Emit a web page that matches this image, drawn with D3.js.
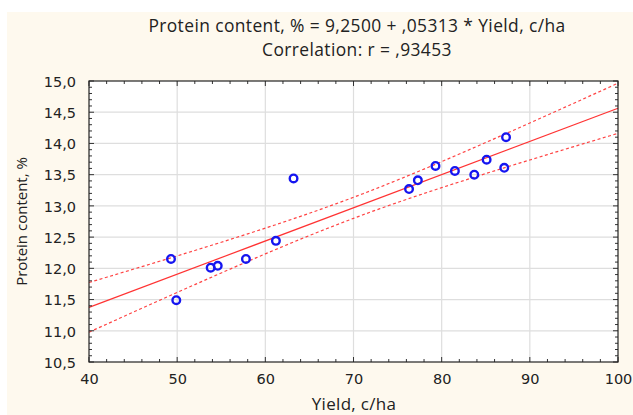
<!DOCTYPE html>
<html>
<head>
<meta charset="utf-8">
<script src="https://cdn.jsdelivr.net/npm/d3@7"></script>
<style>
  html, body { margin: 0; padding: 0; background: #fff; }
  svg { display: block; }
</style>
</head>
<body>
<svg id="chart" width="633" height="415"></svg>
<script>
// yield (c/ha) and protein content (%) per plot
const yieldValues = [49.3, 49.9, 53.8, 54.6, 57.8, 61.2, 63.2, 76.3, 77.3, 79.3, 81.5, 83.7, 85.1, 87.1, 87.3];
const proteinValues = [12.15, 11.49, 12.01, 12.04, 12.15, 12.44, 13.44, 13.27, 13.41, 13.64, 13.56, 13.50, 13.74, 13.61, 14.10];

// fitted line from the title
const intercept = 9.25;
const slope = 0.05313;

const xTicks = [40, 50, 60, 70, 80, 90, 100];
const yTicks = [10.5, 11.0, 11.5, 12.0, 12.5, 13.0, 13.5, 14.0, 14.5, 15.0];

const titleLines = [
  "Protein content, % = 9,2500 + ,05313 * Yield, c/ha",
  "Correlation: r = ,93453"
];

const width = 633, height = 415;
const margin = { top: 81, right: 15, bottom: 53, left: 89 };
const labelFont = "Open Sans";

const svg = d3.select("#chart");

// cream panel behind everything
svg.append("rect")
  .attr("x", 7).attr("y", 12)
  .attr("width", width - 7).attr("height", height - 12)
  .attr("fill", "#fef9ee");

const x = d3.scaleLinear()
  .domain([40, 100])
  .range([margin.left, width - margin.right]);

const y = d3.scaleLinear()
  .domain([10.5, 15])
  .range([height - margin.bottom, margin.top]);

const comma = v => d3.format(".1f")(v).replace(".", ",");

svg.append("rect")
  .attr("x", x(40)).attr("y", y(15))
  .attr("width", x(100) - x(40)).attr("height", y(10.5) - y(15))
  .attr("fill", "#fff");

// grid
svg.append("g").selectAll("line")
  .data(xTicks.slice(1, -1))
  .join("line")
  .attr("x1", d => x(d)).attr("x2", d => x(d))
  .attr("y1", y(15)).attr("y2", y(10.5))
  .attr("stroke", "#dedede").attr("stroke-width", 1.2);

svg.append("g").selectAll("line")
  .data(yTicks.slice(1, -1))
  .join("line")
  .attr("x1", x(40)).attr("x2", x(100))
  .attr("y1", d => y(d)).attr("y2", d => y(d))
  .attr("stroke", "#dedede").attr("stroke-width", 1.2);

// 95% confidence band for the fitted mean
const n = yieldValues.length;
const xMean = d3.mean(yieldValues);
const sxx = d3.sum(yieldValues, v => (v - xMean) ** 2);
const sse = d3.sum(yieldValues, (v, i) => (proteinValues[i] - intercept - slope * v) ** 2);
const s = Math.sqrt(sse / (n - 2));
const tCrit = 2.160;
const fit = v => intercept + slope * v;
const half = v => tCrit * s * Math.sqrt(1 / n + (v - xMean) ** 2 / sxx);
const grid = d3.range(40, 100.001, 1);

const line = d3.line().x(d => x(d[0])).y(d => y(d[1]));

const plot = svg.append("g");

plot.append("path")
  .attr("d", line(grid.map(v => [v, fit(v) + half(v)])))
  .attr("fill", "none").attr("stroke", "#ff4444").attr("stroke-width", 1.2)
  .attr("stroke-dasharray", "3,2.5");

plot.append("path")
  .attr("d", line(grid.map(v => [v, fit(v) - half(v)])))
  .attr("fill", "none").attr("stroke", "#ff4444").attr("stroke-width", 1.2)
  .attr("stroke-dasharray", "3,2.5");

plot.append("path")
  .attr("d", line([[40, fit(40)], [100, fit(100)]]))
  .attr("fill", "none").attr("stroke", "#ff3333").attr("stroke-width", 1.2);

plot.selectAll("circle")
  .data(yieldValues.map((v, i) => [v, proteinValues[i]]))
  .join("circle")
  .attr("cx", d => x(d[0]))
  .attr("cy", d => y(d[1]))
  .attr("r", 3.8)
  .attr("fill", "none")
  .attr("stroke", "#1515f0")
  .attr("stroke-width", 2.4);

// inward ticks on all four sides
const xMinor = d3.range(42, 100, 2).filter(v => v % 10 !== 0);
const yMinor = d3.range(106, 150, 1).map(v => v / 10).filter(v => Math.round(v * 10) % 5 !== 0);

const ticks = svg.append("g").attr("stroke", "#333").attr("stroke-width", 1);
[[y(10.5), -1], [y(15), 1]].forEach(([y0, dir]) => {
  ticks.append("g").selectAll("line")
    .data(xTicks.concat(xMinor))
    .join("line")
    .attr("x1", d => x(d)).attr("x2", d => x(d))
    .attr("y1", y0).attr("y2", d => y0 + dir * (xTicks.includes(d) ? 5 : 3));
});
[[x(40), 1], [x(100), -1]].forEach(([x0, dir]) => {
  ticks.append("g").selectAll("line")
    .data(yTicks.concat(yMinor))
    .join("line")
    .attr("y1", d => y(d)).attr("y2", d => y(d))
    .attr("x1", x0).attr("x2", d => x0 + dir * (yTicks.includes(d) ? 5 : 3));
});

svg.append("rect")
  .attr("x", x(40)).attr("y", y(15))
  .attr("width", x(100) - x(40)).attr("height", y(10.5) - y(15))
  .attr("fill", "none").attr("stroke", "#222").attr("stroke-width", 1.2);

// tick labels via d3 axes, lines hidden
const xg = svg.append("g")
  .attr("transform", `translate(0,${y(10.5)})`)
  .call(d3.axisBottom(x).tickValues(xTicks).tickSize(0).tickPadding(12).tickFormat(d3.format("d")));
const yg = svg.append("g")
  .attr("transform", `translate(${x(40)},0)`)
  .call(d3.axisLeft(y).tickValues(yTicks).tickSize(0).tickPadding(13).tickFormat(comma));
[xg, yg].forEach(g => {
  g.select(".domain").remove();
  g.selectAll("text")
    .attr("fill", "#222")
    .style("font-family", "DejaVu Sans")
    .style("font-size", "14.5px");
});
yg.selectAll("text").attr("dy", "0.36em");

// titles
const cx = 357;
svg.append("g").selectAll("text")
  .data(titleLines)
  .join("text")
  .attr("x", cx)
  .attr("y", (d, i) => 32 + i * 24)
  .attr("text-anchor", "middle")
  .attr("fill", "#222")
  .style("font-family", labelFont)
  .style("font-size", "17.4px")
  .style("letter-spacing", "0.4px")
  .text(d => d);

svg.append("text")
  .attr("transform", `translate(27,${(y(10.5) + y(15)) / 2}) rotate(-90)`)
  .attr("text-anchor", "middle")
  .attr("fill", "#222")
  .style("font-family", labelFont)
  .style("font-size", "15px")
  .text("Protein content, %");

svg.append("text")
  .attr("x", 354)
  .attr("y", 410)
  .attr("text-anchor", "middle")
  .attr("fill", "#222")
  .style("font-family", labelFont)
  .style("font-size", "17px")
  .style("letter-spacing", "0.3px")
  .text("Yield, c/ha");
</script>
</body>
</html>
